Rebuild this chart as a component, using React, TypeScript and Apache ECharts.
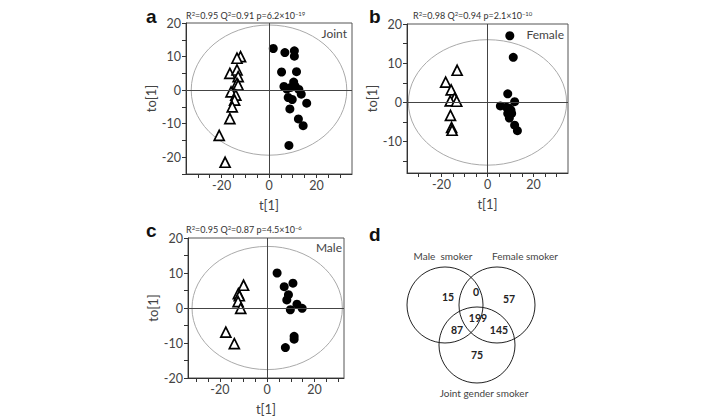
import React, { useEffect, useRef } from "react";
import * as echarts from "echarts";

// ---- data ----
const jointSmokers = [
  [-12, 10], [-13.5, 9.5], [-16.5, 5], [-13.5, 6], [-13, 4], [-13.5, 2], [-13, 1.5],
  [-16, -0.5], [-14, -1.5], [-14.5, -3], [-15.5, -5], [-16.5, -8.5], [-21, -13.5], [-18.5, -21.5],
];
const jointNonSmokers = [
  [1.8, 12.4], [6.7, 11.2], [10.7, 11.7], [10.7, 10.1], [5.3, 5.4], [11.6, 5.5], [6.3, 1.1],
  [10.4, 2.4], [9.2, 0.8], [12.6, 0.2], [13.6, -1.2], [8.1, -2.2], [9.8, -2.8], [15.9, -3.9],
  [8.8, -5.6], [12.4, -8.6], [14.4, -10.6], [8.4, -16.5], [7.5, 0.3], [11, 1.2],
];
const femaleSmokers = [
  [-13.2, 8.2], [-18.2, 5.2], [-15.8, 3.2], [-14.3, 1.1], [-16.2, 0.4], [-13.4, 0.3],
  [-16.1, -3.3], [-15.6, -6.4], [-15.4, -7.1],
];
const femaleNonSmokers = [
  [9.7, 17], [11.2, 11.5], [8.8, 2.2], [11.8, 0.2], [5.6, -0.9], [8.2, -1.2], [9.5, -1.5],
  [8.8, -2.8], [10.5, -2.8], [9.5, -4], [11.8, -5.8], [13, -7.2], [10.2, -2],
];
const maleSmokers = [
  [-10, 6.5], [-12.2, 4.1], [-11.8, 3.5], [-12.3, 1.8], [-11.2, -0.1], [-17.5, -6.9], [-13.9, -10.2],
];
const maleNonSmokers = [
  [4.2, 10], [7.2, 6.1], [10.9, 7.1], [9, 3.8], [8.3, 2.3], [9.8, -0.5], [12.6, 1.1],
  [14.8, -0.1], [11.4, -8.1], [11.4, -8.9], [7.7, -11.3],
];
// ellipse: [cx, cy, rx, ry]
const ellipseA = [[0, 0, 32.8, 19.4]];
const ellipseB = [[0, 0, 34.4, 16]];
const ellipseC = [[0, 0, 31.8, 17.6]];

const xTicks = [-30, -25, -20, -15, -10, -5, 0, 5, 10, 15, 20, 25, 30];
const xLabels = [-20, 0, 20];
const yTicksA = [-25, -20, -15, -10, -5, 0, 5, 10, 15, 20];
const yLabelsA = [-20, -10, 0, 10, 20];
const yTicksB = [-15, -10, -5, 0, 5, 10, 15, 20];
const yLabelsB = [-10, 0, 10, 20];
const yTicksC = [-20, -15, -10, -5, 0, 5, 10, 15, 20];
const yLabelsC = [-20, -10, 0, 10, 20];

const vennSets = ["Male  smoker", "Female smoker", "Joint gender smoker"];
const vennRegions = ["M", "MF", "F", "MFJ", "MJ", "FJ", "J"];
const vennCounts = [15, 0, 57, 199, 87, 145, 75];

const FONT = "Lato, 'Open Sans', sans-serif";

export default function App() {
  const ref = useRef<HTMLDivElement>(null);
  useEffect(() => {
    if (!ref.current) return;
    const chart = echarts.init(ref.current, null, { renderer: "svg" });

    const grids = [
      { left: 186, top: 23, width: 166, height: 151 },
      { left: 407, top: 24, width: 161, height: 149 },
      { left: 188, top: 238, width: 156, height: 145 },
    ];
    const yRanges = [
      [-25, 20, yTicksA, yLabelsA],
      [-18, 20, yTicksB, yLabelsB],
      [-20, 20, yTicksC, yLabelsC],
    ];
    const xRanges = [
      [-35, 35],
      [-35, 35],
      [-33.5, 32.5],
    ];

    const xAxis = grids.map((_, i) => ({
      gridIndex: i,
      type: "value",
      min: xRanges[i][0],
      max: xRanges[i][1],
      axisLine: { onZero: false, lineStyle: { color: "#333", width: 1 } },
      axisTick: { customValues: xTicks, length: 4, lineStyle: { color: "#333" } },
      axisLabel: { customValues: xLabels, color: "#444", fontSize: 12.5, fontFamily: FONT, margin: 5 },
      splitLine: { show: false },
      name: "t[1]",
      nameLocation: "middle",
      nameGap: 24,
      nameTextStyle: { color: "#444", fontSize: 13, fontFamily: FONT },
    }));
    const yAxis = grids.map((_, i) => ({
      gridIndex: i,
      type: "value",
      min: yRanges[i][0],
      max: yRanges[i][1],
      axisLine: { onZero: false, lineStyle: { color: "#333", width: 1 } },
      axisTick: { customValues: yRanges[i][2], length: 4, lineStyle: { color: "#333" } },
      axisLabel: { customValues: yRanges[i][3], color: "#444", fontSize: 12.5, fontFamily: FONT, margin: 5 },
      splitLine: { show: false },
      name: "to[1]",
      nameLocation: "middle",
      nameGap: 29,
      nameTextStyle: { color: "#444", fontSize: 13, fontFamily: FONT },
    }));

    const ellipseSeries = (data: number[][], i: number) => ({
      type: "custom",
      xAxisIndex: i,
      yAxisIndex: i,
      silent: true,
      data,
      renderItem: (_p: any, api: any) => {
        const c = api.coord([api.value(0), api.value(1)]);
        const s = api.size([api.value(2), api.value(3)]);
        return {
          type: "ellipse",
          shape: { cx: c[0], cy: c[1], rx: s[0], ry: s[1] },
          style: { fill: "none", stroke: "#aaa", lineWidth: 1 },
        };
      },
      z: 1,
    });
    const zeroLines = {
      silent: true,
      symbol: "none",
      label: { show: false },
      lineStyle: { color: "#444", type: "solid", width: 1 },
      data: [{ xAxis: 0 }, { yAxis: 0 }],
    };
    const tri = (data: number[][], i: number) => ({
      type: "scatter",
      xAxisIndex: i,
      yAxisIndex: i,
      data,
      symbol: "triangle",
      symbolSize: 10,
      itemStyle: { color: "#fff", borderColor: "#000", borderWidth: 1.7, opacity: 1 },
      markLine: zeroLines,
      z: 3,
    });
    const dot = (data: number[][], i: number) => ({
      type: "scatter",
      xAxisIndex: i,
      yAxisIndex: i,
      data,
      symbol: "circle",
      symbolSize: 9,
      itemStyle: { color: "#000", opacity: 1 },
      z: 4,
    });

    const supRich = {
      n: { fontSize: 9, fontFamily: FONT, fill: "#333", color: "#333" },
      s: { fontSize: 6, fontFamily: FONT, fill: "#333", color: "#333", verticalAlign: "top", lineHeight: 9 },
    };
    const statText = (x: number, y: number, r2: string, q2: string, p: string, e: string) => ({
      type: "text",
      x,
      y,
      style: {
        text: `{n|R}{s|2}{n|=${r2} Q}{s|2}{n|=${q2} p=${p}×10}{s|${e}}`,
        rich: supRich,
        fill: "#333",
        verticalAlign: "middle",
      },
    });
    const letter = (x: number, y: number, t: string) => ({
      type: "text",
      x,
      y,
      style: { text: t, font: "bold 19px Arial, 'Liberation Sans', sans-serif", fill: "#111", verticalAlign: "middle" },
    });
    const inner = (x: number, y: number, t: string) => ({
      type: "text",
      x,
      y,
      style: { text: t, fontSize: 12, fontFamily: FONT, fill: "#444", align: "right", verticalAlign: "middle" },
    });

    const circles = [
      { cx: 445, cy: 305 },
      { cx: 497, cy: 305 },
      { cx: 477, cy: 345 },
    ];
    const setLabelPos = [
      [443, 256],
      [525, 256],
      [484, 393],
    ];
    const regionPos: Record<string, number[]> = {
      M: [448, 297],
      MF: [476, 292],
      F: [509, 299],
      MFJ: [478, 318],
      MJ: [457, 330],
      FJ: [499, 330],
      J: [477, 355],
    };

    const graphic: any[] = [
      letter(146, 16, "a"),
      letter(369, 16, "b"),
      letter(146, 230, "c"),
      letter(369, 234, "d"),
      statText(186, 15, "0.95", "0.91", "6.2", "−19"),
      statText(413, 15, "0.98", "0.94", "2.1", "−10"),
      statText(186, 229, "0.95", "0.87", "4.5", "−6"),
      inner(347, 33, "Joint"),
      inner(564, 34, "Female"),
      inner(342, 247, "Male"),
      ...circles.map((c) => ({
        type: "circle",
        shape: { cx: c.cx, cy: c.cy, r: 38 },
        style: { fill: "none", stroke: "#222", lineWidth: 1 },
      })),
      ...vennSets.map((s, i) => ({
        type: "text",
        x: setLabelPos[i][0],
        y: setLabelPos[i][1],
        style: { text: s, fontSize: 10, fontFamily: FONT, fill: "#444", align: "center", verticalAlign: "middle" },
      })),
      ...vennRegions.map((r, i) => ({
        type: "text",
        x: regionPos[r][0],
        y: regionPos[r][1],
        style: {
          text: String(vennCounts[i]),
          font: `bold 10.5px ${FONT}`,
          fill: "#222",
          align: "center",
          verticalAlign: "middle",
        },
      })),
    ];

    chart.setOption({
      animation: false,
      backgroundColor: "#fff",
      grid: grids.map((g) => ({ ...g, show: true, borderColor: "#555", borderWidth: 1 })),
      xAxis,
      yAxis,
      series: [
        ellipseSeries(ellipseA, 0),
        tri(jointSmokers, 0),
        dot(jointNonSmokers, 0),
        ellipseSeries(ellipseB, 1),
        tri(femaleSmokers, 1),
        dot(femaleNonSmokers, 1),
        ellipseSeries(ellipseC, 2),
        tri(maleSmokers, 2),
        dot(maleNonSmokers, 2),
      ],
      graphic,
    });
    return () => chart.dispose();
  }, []);
  return <div ref={ref} style={{ width: 720, height: 416, position: "absolute", left: 0, top: 0 }} />;
}
